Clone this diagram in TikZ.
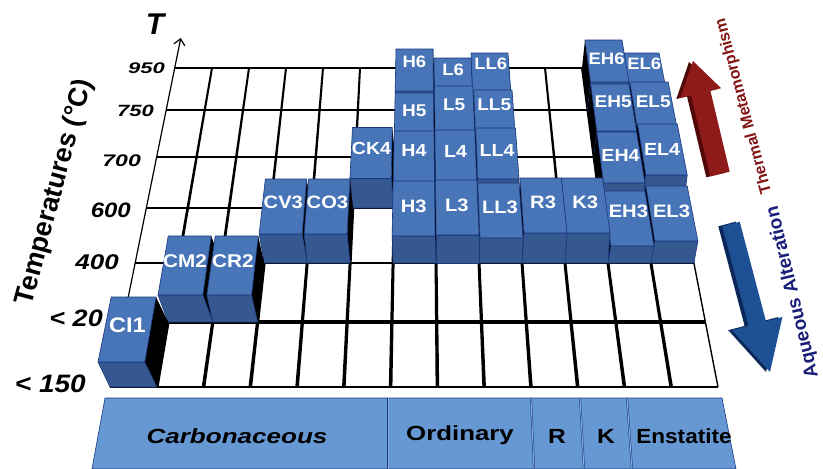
\documentclass[tikz,border=0pt]{standalone}
\usepackage{fontspec}
\setmainfont{Liberation Sans}
\usetikzlibrary{arrows.meta}
\definecolor{topblue}{RGB}{72,116,184}
\definecolor{frontblue}{RGB}{54,88,145}
\definecolor{edgeblue}{RGB}{25,55,125}
\definecolor{bandblue}{RGB}{102,152,212}
\definecolor{arrowred}{RGB}{142,26,26}
\definecolor{arrowreddark}{RGB}{80,8,8}
\definecolor{arrowblue}{RGB}{30,80,150}
\definecolor{arrowbluedark}{RGB}{12,40,90}
\definecolor{textred}{RGB}{130,20,20}
\definecolor{textnavy}{RGB}{25,30,120}

\newcommand\gridx[3]{\pgfmathsetmacro#1{175-0.203762*(#3-68)+(#2)*(481+0.398119*(#3-68))/13}}

\tikzset{
  topface/.style={fill=topblue,draw=edgeblue,line width=0.6pt,line join=round},
  frontface/.style={fill=frontblue,draw=edgeblue,line width=0.6pt,line join=round},
  sideface/.style={fill=black},
  blklabel/.style={text=white,inner sep=0pt,xscale=1.12},
  axnum/.style={anchor=east,inner sep=0pt},
  bandtext/.style={text=black,inner sep=0pt},
}

% #1 col, #2 row, #3 height, #4 lean, #5 label, #6 label shift
\newcommand\blk[6]{%
  \pgfmathsetmacro\yb{{68,110,157,208,263,322,387}[#2]}%
  \pgfmathsetmacro\yf{{68,110,157,208,263,322,387}[#2+1]}%
  \pgfmathsetmacro\fs{{16.5,17,17.5,18,18.5,21}[#2]}%
  \gridx\xbl{#1}{\yb}\gridx\xbr{#1+1}{\yb}\gridx\xfl{#1}{\yf}\gridx\xfr{#1+1}{\yf}%
  \pgfmathsetmacro\tyb{\yb-(#3)}\pgfmathsetmacro\tyf{\yf-(#3)}%
  \pgfmathsetmacro\txbl{\xbl+(#4)}\pgfmathsetmacro\txbr{\xbr+(#4)}%
  \pgfmathsetmacro\txfl{\xfl+(#4)}\pgfmathsetmacro\txfr{\xfr+(#4)}%
  \ifdim #4pt<0pt
    \fill[sideface] (\xfr,\yf)--(\xbr,\yb)--(\txbr,\tyb)--(\txfr,\tyf)--cycle;
  \fi
  \ifdim #4pt>0pt
    \fill[sideface] (\xfl,\yf)--(\xbl,\yb)--(\txbl,\tyb)--(\txfl,\tyf)--cycle;
  \fi
  \filldraw[frontface] (\xfl,\yf)--(\xfr,\yf)--(\txfr,\tyf)--(\txfl,\tyf)--cycle;
  \filldraw[topface] (\txbl,\tyb)--(\txbr,\tyb)--(\txfr,\tyf)--(\txfl,\tyf)--cycle;
  \pgfmathsetmacro\lx{(\txbl+\txbr+\txfl+\txfr)/4}%
  \pgfmathsetmacro\ly{(\tyb+\tyf)/2+(#6)}%
  \node[blklabel,font={\fontsize{\fs}{\fs}\selectfont\bfseries}] (#5) at (\lx,\ly) {#5};
}

\begin{document}
\begin{tikzpicture}[x=1pt,y=-1pt]
\useasboundingbox (0,0) rectangle (823,469);
\fill[white] (0,0) rectangle (823,469);

% ---- floor grid ----
\foreach \i/\lw in {0/1.6,1/2.1,2/2.4,3/2.7,4/2.9,5/3.1,6/2.6} {
  \pgfmathsetmacro\yy{{68,110,157,208,263,322,387}[\i]}
  \gridx\xa{0}{\yy}\gridx\xb{13}{\yy}
  \draw[line width=\lw pt] (\xa,\yy)--(\xb,\yy);
}
\foreach \u in {1,...,12} {
  \gridx\xa{\u}{68}\gridx\xb{\u}{387}
  \fill (\xa-1,68)--(\xa+1,68)--(\xb+1.8,387)--(\xb-1.8,387)--cycle;
}
\draw[line width=1.4pt] (656,68)--(718,387);
\coordinate (axbot) at (110,387);
\coordinate (axtop) at (180.8,38);
\draw[line width=1.2pt,-{Straight Barb[length=6pt,width=11pt]}] (axbot)--(axtop);

% ---- blocks, back to front ----
% row 0
\blk{12}{0}{15}{3}{EL6}{-10}
\blk{11}{0}{28}{3}{EH6}{-2}
\blk{8}{0}{15}{0}{LL6}{-10}
\blk{7}{0}{10}{0}{L6}{-9}
\blk{6}{0}{19}{-1}{H6}{-8}
% row 1
\blk{12}{1}{28}{4}{EL5}{-4}
\blk{11}{1}{26}{3}{EH5}{-6}
\blk{8}{1}{20}{1}{LL5}{-9}
\blk{7}{1}{24}{0}{L5}{-5}
\blk{6}{1}{17}{-1}{H5}{-6}
% row 2
\blk{5}{2}{29.5}{-3}{CK4}{-5}
\blk{12}{2}{33}{4}{EL4}{0}
\blk{11}{2}{25}{3}{EH4}{-2}
\blk{8}{2}{29}{1}{LL4}{-3}
\blk{7}{2}{27}{0}{L4}{-4}
\blk{6}{2}{26}{-1}{H4}{-6}
% row 3
\blk{3}{3}{29}{-5}{CV3}{-4}
\blk{4}{3}{29}{-3}{CO3}{-4}
\blk{12}{3}{22}{4}{EL3}{-2}
\blk{11}{3}{17}{3}{EH3}{-7}
\blk{10}{3}{30}{2}{K3}{-3}
\blk{9}{3}{30}{2}{R3}{-3}
\blk{8}{3}{25}{1}{LL3}{-3}
\blk{7}{3}{28}{0}{L3}{-2}
\blk{6}{3}{27}{-1}{H3}{-2}
% row 4
\blk{1}{4}{27}{-10}{CM2}{-4}
\blk{2}{4}{27}{-6}{CR2}{-4}
% row 5
\blk{0}{5}{25}{-12}{CI1}{-4}

% ---- axis labels ----
\node[font={\fontsize{30}{30}\selectfont\bfseries\itshape}] (Tlab) at (155,24) {T};
\node[axnum,yscale=0.7,font={\fontsize{22}{22}\selectfont\bfseries\itshape}] (n950) at (165,68) {950};
\node[axnum,yscale=0.74,font={\fontsize{22}{22}\selectfont\bfseries\itshape}] (n750) at (154,111) {750};
\node[axnum,yscale=0.73,font={\fontsize{23}{23}\selectfont\bfseries\itshape}] (n700) at (141,161) {700};
\node[axnum,yscale=0.87,font={\fontsize{24}{24}\selectfont\bfseries\itshape}] (n600) at (131,210) {600};
\node[axnum,yscale=0.82,font={\fontsize{26}{26}\selectfont\bfseries\itshape}] (n400) at (119,262) {400};
\node[axnum,yscale=0.88,font={\fontsize{27}{27}\selectfont\bfseries\itshape}] (n20) at (103,318) {< 20};
\node[axnum,yscale=0.90,font={\fontsize{28}{28}\selectfont\bfseries\itshape}] (n150) at (86,384) {< 150};
\node[rotate=75,font={\fontsize{27}{27}\selectfont\bfseries}] (templab) at (55,192) {Temperatures (°C)};

% ---- class band ----
\filldraw[fill=bandblue,draw=edgeblue,line width=0.6pt] (105,398)--(722,398)--(736,469)--(92,469)--cycle;
\foreach \a/\b in {388/388,531/534,580/584,627/632}
  \draw[draw=edgeblue,double=bandblue!80!white,double distance=1pt,line width=0.5pt] (\a,398)--(\b,469);
\node[bandtext,xscale=1.27,font={\fontsize{20.5}{20.5}\selectfont\bfseries\itshape}] (carb) at (237,436) {Carbonaceous};
\node[bandtext,xscale=1.26,font={\fontsize{20.5}{20.5}\selectfont\bfseries}] (ord) at (460,435) {Ordinary};
\node[bandtext,xscale=1.2,font={\fontsize{20.5}{20.5}\selectfont\bfseries}] (rcl) at (557,436) {R};
\node[bandtext,xscale=1.2,font={\fontsize{20.5}{20.5}\selectfont\bfseries}] (kcl) at (606,436) {K};
\node[bandtext,xscale=1.1,font={\fontsize{20.5}{20.5}\selectfont\bfseries}] (ecl) at (684,436) {Enstatite};

% ---- arrows ----
\begin{scope}[shift={(-4,1)}]
\fill[arrowreddark] (710.3,176.3)--(691.0,95.4)--(680.3,98.0)--(693,61)--(721.1,88.2)--(710.4,90.8)--(729.7,171.7)--cycle;
\end{scope}
\fill[arrowred] (710.3,176.3)--(691.0,95.4)--(680.3,98.0)--(693,61)--(721.1,88.2)--(710.4,90.8)--(729.7,171.7)--cycle;
\begin{scope}[shift={(-4,0)}]
\fill[arrowbluedark] (722.3,226.3)--(748.6,325.9)--(732.2,330.2)--(770,372)--(782.4,317.0)--(766.0,321.3)--(739.7,221.7)--cycle;
\end{scope}
\fill[arrowblue] (722.3,226.3)--(748.6,325.9)--(732.2,330.2)--(770,372)--(782.4,317.0)--(766.0,321.3)--(739.7,221.7)--cycle;
\node[rotate=105,text=textred,font={\fontsize{16}{16}\selectfont\bfseries}] (thermal) at (744,106) {Thermal Metamorphism};
\node[rotate=103.5,text=textnavy,font={\fontsize{19}{19}\selectfont\bfseries}] (aqueous) at (793,292) {Aqueous Alteration};
\end{tikzpicture}
\end{document}
